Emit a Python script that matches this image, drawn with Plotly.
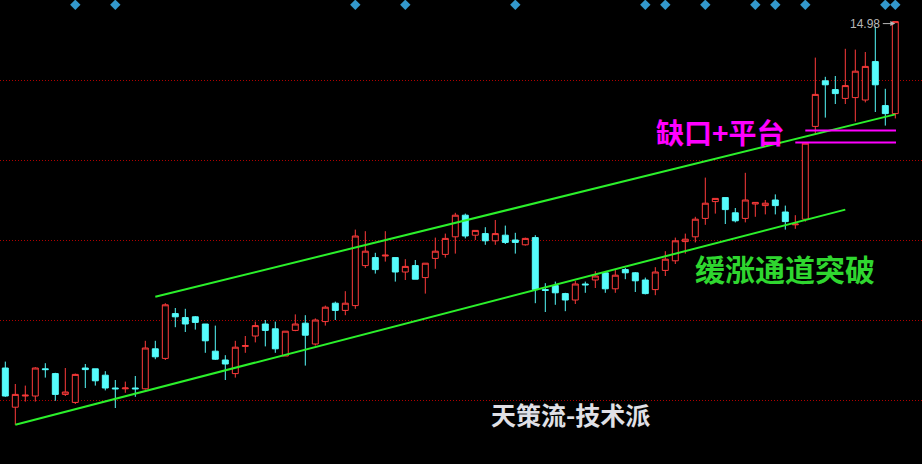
import plotly.graph_objects as go

# ---- data ----
idx = list(range(90))
open_ = [10.65,10.16,10.30,10.30,10.64,10.58,10.32,10.22,10.65,10.64,
         10.56,10.40,10.39,10.40,10.39,10.89,10.77,11.33,11.28,11.29,
         11.20,10.86,10.75,10.58,10.92,11.05,11.20,11.14,10.80,11.12,
         11.21,10.95,11.23,11.46,11.37,11.43,11.93,12.03,12.05,12.03,
         11.85,11.93,11.78,12.02,12.07,12.29,12.56,12.31,12.33,12.24,
         12.31,12.25,12.19,12.28,11.63,11.68,11.58,11.50,11.70,11.75,
         11.84,11.64,11.88,11.84,11.75,11.63,11.87,11.99,12.23,12.29,
         12.52,12.73,12.78,12.59,12.52,12.70,12.68,12.75,12.60,12.44,
         12.51,13.67,14.24,14.13,14.02,14.03,14.00,14.48,13.93,13.83]
high = [10.73,10.45,10.43,10.66,10.71,10.59,10.65,10.58,10.70,10.64,
        10.61,10.50,10.48,10.55,10.99,10.99,11.46,11.40,11.39,11.30,
        11.20,11.18,10.81,10.99,11.05,11.23,11.25,11.23,11.11,11.32,
        11.31,11.27,11.43,11.48,11.61,12.38,12.36,12.09,12.36,12.03,
        12.01,12.00,11.96,12.28,12.33,12.59,12.58,12.37,12.41,12.50,
        12.43,12.34,12.28,12.31,11.71,11.73,11.59,11.74,11.73,11.86,
        11.86,11.88,11.90,11.85,11.78,11.91,12.11,12.28,12.33,12.54,
        13.03,12.77,12.78,12.65,13.09,12.72,12.75,12.82,12.68,12.56,
        13.46,14.53,14.29,14.30,14.64,14.63,14.60,14.92,14.14,14.98]
low = [10.29,9.94,10.23,10.23,10.53,10.24,10.30,10.20,10.40,10.43,
       10.37,10.15,10.34,10.29,10.38,10.76,10.75,11.16,11.10,11.13,
       10.84,10.75,10.50,10.53,10.84,10.97,10.92,10.84,10.80,11.11,
       10.68,10.93,11.18,11.25,11.31,11.39,11.90,11.83,11.98,11.73,
       11.75,11.76,11.58,11.89,12.03,12.08,12.27,12.25,12.19,12.19,
       12.20,12.08,12.18,11.46,11.35,11.44,11.36,11.45,11.59,11.65,
       11.59,11.59,11.76,11.60,11.57,11.56,11.80,11.95,12.08,12.22,
       12.44,12.58,12.45,12.47,12.47,12.54,12.57,12.57,12.38,12.39,
       12.48,13.58,13.78,13.95,13.95,13.73,13.97,13.85,13.68,13.77]
close = [10.30,10.32,10.31,10.65,10.63,10.32,10.35,10.57,10.63,10.49,
         10.40,10.39,10.40,10.39,10.90,10.79,11.44,11.29,11.20,11.22,
         10.99,10.76,10.70,10.91,10.93,11.18,11.12,10.89,11.11,11.20,
         11.06,11.25,11.41,11.37,11.46,12.30,12.11,11.88,12.06,11.85,
         11.92,11.76,11.96,12.11,12.27,12.56,12.30,12.37,12.24,12.33,
         12.22,12.22,12.27,11.63,11.62,11.59,11.50,11.70,11.69,11.80,
         11.64,11.81,11.84,11.74,11.58,11.85,12.01,12.24,12.26,12.51,
         12.71,12.77,12.63,12.49,12.75,12.72,12.71,12.68,12.48,12.45,
         13.46,14.07,14.19,14.08,14.18,14.36,14.42,14.19,13.83,14.98]

lower_x = [1, 84]
lower_y = [9.94, 12.63]
upper_x = [15, 89]
upper_y = [11.54, 13.82]
gap_hi_x = [80, 89.07]
gap_hi_y = [13.62, 13.62]
gap_lo_x = [79, 89.07]
gap_lo_y = [13.47, 13.47]
signal_x = [7, 11, 35, 40, 51, 64, 66, 70, 75, 77, 80, 88, 89]
signal_y = [15.19] * len(signal_x)
grid_vals = [10.25, 11.25, 12.25, 13.25, 14.25, 15.25]
max_label = "14.98"

RED = "#ff3b3b"
CYAN = "#55fcfc"
GREEN = "#2bf02b"
MAGENTA = "#ff00ff"

fig = go.Figure()
fig.add_trace(go.Candlestick(
    x=idx, open=open_, high=high, low=low, close=close,
    increasing=dict(line=dict(color=RED, width=1), fillcolor="#000000"),
    decreasing=dict(line=dict(color=CYAN, width=1), fillcolor=CYAN),
    whiskerwidth=0, hoverinfo="skip", showlegend=False,
))
fig.add_trace(go.Scatter(x=lower_x, y=lower_y, mode="lines",
                         line=dict(color=GREEN, width=2), hoverinfo="skip", showlegend=False))
fig.add_trace(go.Scatter(x=upper_x, y=upper_y, mode="lines",
                         line=dict(color=GREEN, width=2), hoverinfo="skip", showlegend=False))
fig.add_trace(go.Scatter(x=gap_hi_x, y=gap_hi_y, mode="lines",
                         line=dict(color=MAGENTA, width=2), hoverinfo="skip", showlegend=False))
fig.add_trace(go.Scatter(x=gap_lo_x, y=gap_lo_y, mode="lines",
                         line=dict(color=MAGENTA, width=2), hoverinfo="skip", showlegend=False))
fig.add_trace(go.Scatter(x=signal_x, y=signal_y, mode="markers",
                         marker=dict(symbol="diamond", size=8, color="#3398cc", line=dict(width=0)),
                         hoverinfo="skip", showlegend=False))

cjk = "Noto Sans CJK SC"
fig.add_annotation(x=71.5, y=13.60, text="<b>缺口+平台</b>", showarrow=False,
                   font=dict(family=cjk, size=28, color=MAGENTA))
fig.add_annotation(x=78.0, y=11.90, text="<b>缓涨通道突破</b>", showarrow=False,
                   font=dict(family=cjk, size=30, color="#2fd62f"))
fig.add_annotation(x=56.5, y=10.08, text="<b>天策流-技术派</b>", showarrow=False,
                   font=dict(family=cjk, size=25, color="#e0e0e6"))
fig.add_annotation(x=86.0, y=14.955, text=max_label, showarrow=False,
                   font=dict(family="Liberation Sans, Arial", size=12, color="#b8b8b8"))
fig.add_annotation(x=89, y=14.955, ax=-14, ay=0, text="", showarrow=True,
                   arrowhead=2, arrowsize=1, arrowwidth=1, arrowcolor="#b8b8b8")

fig.update_layout(
    width=922, height=464,
    margin=dict(l=0, r=0, t=0, b=0),
    paper_bgcolor="#000000", plot_bgcolor="#000000",
    boxgap=0.15,
    xaxis=dict(range=[-0.53, 91.67], showgrid=False, zeroline=False,
               showticklabels=False, rangeslider=dict(visible=False), fixedrange=True),
    yaxis=dict(range=[9.45, 15.25], tickvals=grid_vals, showticklabels=False,
               showgrid=True, gridcolor="#b00000", gridwidth=1, griddash="1px,2px",
               zeroline=False, fixedrange=True),
    showlegend=False,
)

fig.write_html("out.html", config={"displayModeBar": False},
               post_script="document.body.style.margin='0';document.body.style.background='#000';")
